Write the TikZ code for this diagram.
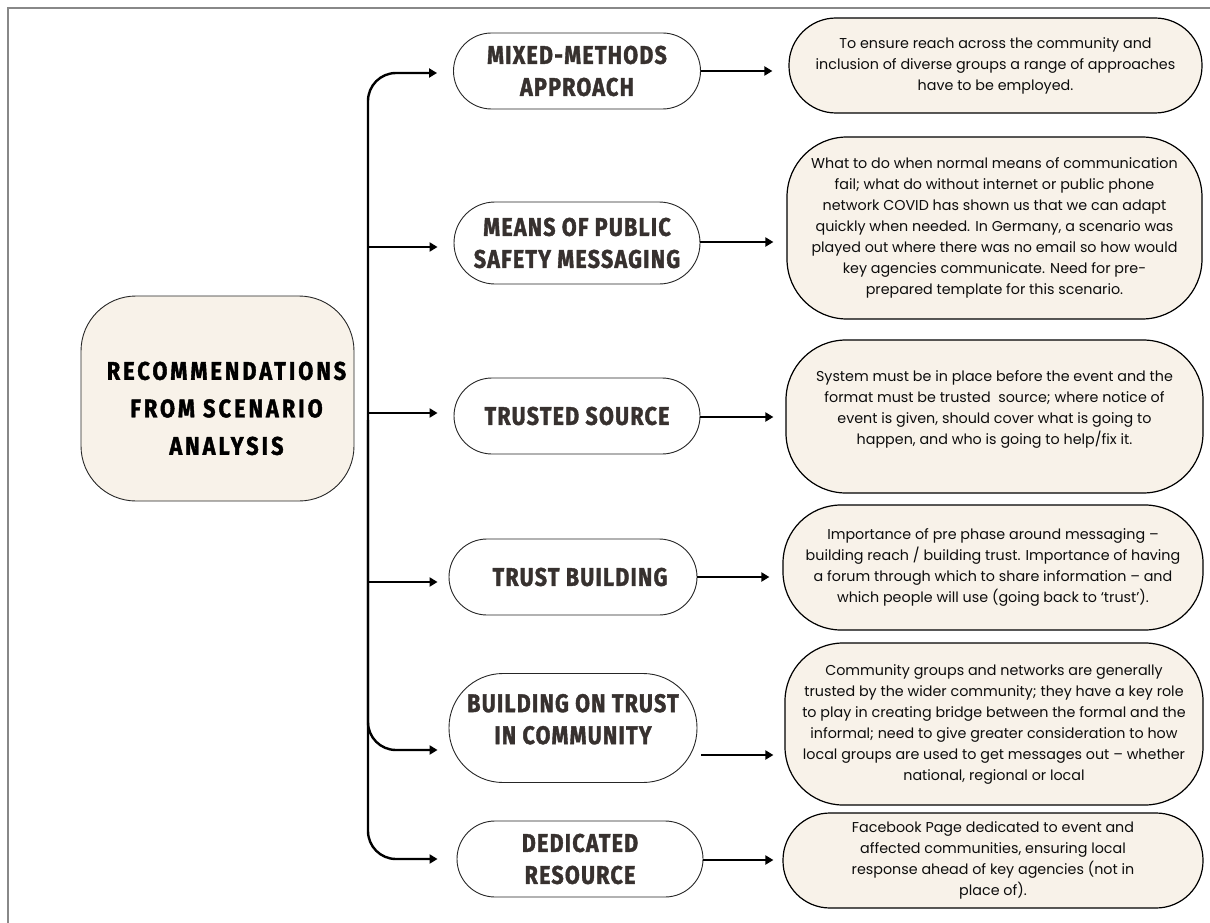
\documentclass[tikz,border=0pt]{standalone}
\usepackage{fontspec}
\setmainfont{Poppins}
\newfontfamily\headfont[FakeStretch=0.84,LetterSpace=5,FakeBold=1.5]{Fira Sans}
\newfontfamily\mainheadfont[FakeStretch=0.85,LetterSpace=12,FakeBold=1.5]{Fira Sans}
\usetikzlibrary{arrows.meta,calc}
\definecolor{beige}{RGB}{248,242,233}
\definecolor{headtext}{RGB}{55,49,47}
\definecolor{framegray}{RGB}{136,136,136}
\begin{document}
\begin{tikzpicture}[x=1pt,y=-1pt,
  midbox/.style={draw=black!85,line width=0.9pt,fill=white,inner sep=0pt,align=center,
    font=\headfont\bfseries\fontsize{25.5}{32}\selectfont,text=headtext},
  detbox/.style={draw=black,line width=1.2pt,fill=beige,inner sep=0pt,align=center,
    font=\fontsize{14.3}{21}\selectfont,text=black!95},
  mainbox/.style={draw=black!85,line width=0.9pt,fill=beige,inner sep=0pt,align=center,
    rounded corners=55pt,font=\mainheadfont\bfseries\fontsize{25.5}{37.5}\selectfont,text=black},
  trunkline/.style={line width=2.4pt,-{Triangle[length=8pt,width=9pt]},rounded corners=28pt},
  conn/.style={line width=2.2pt,-{Triangle[length=8pt,width=9pt]}},
  frameline/.style={draw=framegray,line width=2.4pt}
]
\useasboundingbox (0,0) rectangle (1210,923);
\draw[frameline] (8,923) -- (8,8) -- (1210,8);

% main node
\node[mainbox,minimum width=273pt,minimum height=205pt] (main) at (217.5,398.5)
  {\rule{0pt}{38pt}\hspace*{18pt}RECOMMENDATIONS\\\hspace*{18pt}FROM SCENARIO\\\hspace*{18pt}ANALYSIS};

% middle nodes
\node[midbox,minimum width=247pt,minimum height=76pt,rounded corners=38pt] (m1) at (577,71)
  {MIXED-METHODS\\APPROACH};
\node[midbox,minimum width=246pt,minimum height=82pt,rounded corners=41pt] (m2) at (577,243)
  {MEANS OF PUBLIC\\SAFETY MESSAGING};
\node[midbox,minimum width=246pt,minimum height=76pt,rounded corners=38pt] (m3) at (577,416)
  {TRUSTED SOURCE};
\node[midbox,minimum width=248pt,minimum height=76pt,rounded corners=38pt] (m4) at (573,577)
  {\hspace*{14pt}TRUST BUILDING};
\node[midbox,minimum width=248pt,minimum height=109pt,rounded corners=54pt] (m5) at (573,728)
  {BUILDING ON TRUST\\IN COMMUNITY\\[-14pt]};
\node[midbox,minimum width=246pt,minimum height=76pt,rounded corners=38pt] (m6) at (580,859)
  {DEDICATED\\RESOURCE};

% detail boxes
\node[detbox,minimum width=413pt,minimum height=95pt,rounded corners=47pt] (d1) at (995.5,65.5)
  {To ensure reach across the community and\\inclusion of diverse groups a range of approaches\\have to be employed.};
\node[detbox,minimum width=415pt,minimum height=182pt,rounded corners=60pt] (d2) at (994.5,228)
  {What to do when normal means of communication\\fail; what do without internet or public phone\\network COVID has shown us that we can adapt\\quickly when needed. In Germany, a scenario was\\played out where there was no email so how would\\key agencies communicate. Need for pre-\\prepared template for this scenario.};
\node[detbox,minimum width=417pt,minimum height=153pt,rounded corners=60pt] (d3) at (994.5,416.5)
  {System must be in place before the event and the\\format must be trusted\ \ source; where notice of\\event is given, should cover what is going to\\happen, and who is going to help/fix it.\rule[-18pt]{0pt}{0pt}};
\node[detbox,minimum width=420pt,minimum height=125pt,rounded corners=58pt] (d4) at (993,567.5)
  {Importance of pre phase around messaging –\\building reach / building trust. Importance of having\\a forum through which to share information – and\\which people will use (going back to ‘trust’).};
\node[detbox,minimum width=418pt,minimum height=162pt,rounded corners=58pt] (d5) at (994,724)
  {Community groups and networks are generally\\trusted by the wider community; they have a key role\\to play in creating bridge between the formal and the\\informal; need to give greater consideration to how\\local groups are used to get messages out – whether\\national, regional or local};
\node[detbox,minimum width=420pt,minimum height=95pt,rounded corners=47pt] (d6) at (993,860.5)
  {Facebook Page dedicated to event and\\affected communities, ensuring local\\response ahead of key agencies (not in\\place of).};

% trunk and branches
\coordinate (tr) at (368,420);
\draw[trunkline,shorten >=16pt] (tr) |- ($(m1.west)+(0,2)$);
\draw[trunkline,shorten >=16pt] ($(tr |- m2.west)+(0,4)$) -- ($(m2.west)+(0,4)$);
\draw[trunkline,shorten >=16pt] ($(tr |- m3.west)+(0,-3)$) -- ($(m3.west)+(0,-3)$);
\draw[trunkline,shorten >=11pt] ($(tr |- m4.west)+(0,5)$) -- ($(m4.west)+(0,5)$);
\draw[trunkline,shorten >=11pt] (tr) |- ($(m5.west)+(0,22)$);
\draw[trunkline,shorten >=19pt] (tr) |- (m6.west);

% node to detail connectors
\draw[conn,shorten >=16pt] (m1.east) -- (m1.east -| d1.west);
\draw[conn,shorten >=13pt] ($(m2.east)+(0,-1)$) -- ($(m2.east -| d2.west)+(0,-1)$);
\draw[conn,shorten >=12pt] ($(m3.east)+(0,1)$) -- ($(m3.east -| d3.west)+(0,1)$);
\draw[conn,shorten >=13pt] (m4.east) -- (m4.east -| d4.west);
\draw[conn,shorten <=4pt,shorten >=11pt] ($(m5.east)+(0,27)$) -- ($(m5.east -| d5.west)+(0,27)$);
\draw[conn,shorten >=9pt] ($(m6.east)+(0,1)$) -- ($(m6.east -| d6.west)+(0,1)$);
\end{tikzpicture}
\end{document}
